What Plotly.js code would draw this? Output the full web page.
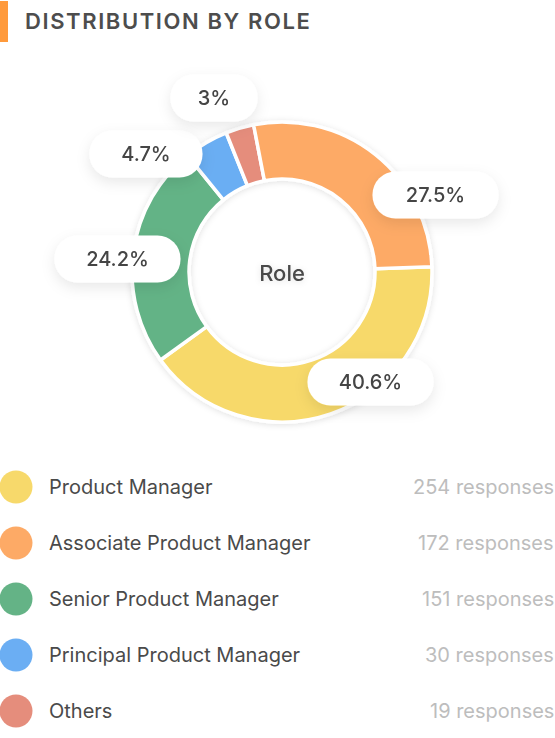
<!DOCTYPE html>
<html>
<head>
<meta charset="utf-8">
<script src="https://cdn.plot.ly/plotly-3.0.1.min.js"></script>
<style>
  html, body { margin: 0; padding: 0; background: #fff; }
  #chart { width: 555px; height: 738px; }
</style>
</head>
<body>
<div id="chart"></div>
<script>
// data, in legend order
const roles = ['Product Manager', 'Associate Product Manager', 'Senior Product Manager', 'Principal Product Manager', 'Others'];
const responses = [254, 172, 151, 30, 19];
const percentLabels = ['40.6%', '27.5%', '24.2%', '4.7%', '3%'];
const colors = ['#F7D96B', '#FDAA66', '#64B386', '#6BAEF3', '#E58D7C'];

// order the slices go round the donut (clockwise from 3 o'clock)
const pieOrder = [0, 2, 3, 4, 1];

// where the percent bubbles sit (px from top-left of the page)
const bubblePos = [[370, 382], [435, 195], [117, 259], [146, 154], [214, 98]];

const W = 555, H = 738;
const px = x => x / W;
const py = y => 1 - y / H;

// donut: centre (282, 272), radius 150
const cx = 282, cy = 272, R = 150;

// legend rows: first row at 487px, 56px apart -> y axis range in row units
const rowTop = 487, rowGap = 56;

let pie = {
    type: 'pie',
    values: pieOrder.map(i => responses[i]),
    labels: pieOrder.map(i => roles[i]),
    sort: false,
    direction: 'clockwise',
    rotation: 88,
    hole: 0.62,
    textinfo: 'none',
    hoverinfo: 'skip',
    marker: { colors: pieOrder.map(i => colors[i]), line: { color: '#ffffff', width: 3.5 } },
    domain: { x: [px(cx - R), px(cx + R)], y: [py(cy + R), py(cy - R)] },
    title: {
        text: 'Role',
        position: 'middle center',
        font: { family: 'Inter, sans-serif', size: 22, color: '#4a4a4a', weight: 500 }
    }
};

let legendDots = {
    type: 'scatter',
    mode: 'markers',
    x: roles.map(() => 16),
    y: roles.map((r, i) => i),
    marker: { size: 33, color: colors },
    hoverinfo: 'skip'
};

let annotations = [];
percentLabels.forEach((t, i) => {
    annotations.push({
        xref: 'paper', yref: 'paper',
        x: px(bubblePos[i][0]), y: py(bubblePos[i][1]),
        xanchor: 'center', yanchor: 'middle',
        text: t, showarrow: false,
        width: 60 + 13 * t.length, height: 46,
        borderpad: 0, bgcolor: '#ffffff',
        font: { family: 'Inter, sans-serif', size: 20, color: '#444444', weight: 500 }
    });
});
roles.forEach((r, i) => {
    annotations.push({
        xref: 'x', yref: 'y', x: 47, y: i,
        xanchor: 'left', yanchor: 'middle',
        text: r, showarrow: false,
        font: { family: 'Inter, sans-serif', size: 20, color: '#4a4a4a' }
    });
    annotations.push({
        xref: 'paper', yref: 'y', x: 1, xshift: 1, y: i,
        xanchor: 'right', yanchor: 'middle',
        text: responses[i] + ' responses', showarrow: false,
        font: { family: 'Inter, sans-serif', size: 20, color: '#bdbdbd' }
    });
});

let layout = {
    width: W, height: H,
    margin: { l: 0, r: 0, t: 0, b: 0 },
    paper_bgcolor: '#ffffff',
    plot_bgcolor: 'rgba(0,0,0,0)',
    showlegend: false,
    title: {
        text: 'DISTRIBUTION BY ROLE',
        xref: 'paper', yref: 'paper',
        x: px(25), xanchor: 'left',
        y: py(21), yanchor: 'middle',
        font: { family: 'Inter, sans-serif', size: 22, color: '#4d4d4d', weight: 600 }
    },
    xaxis: { range: [0, W], visible: false, fixedrange: true },
    yaxis: {
        range: [(H - rowTop) / rowGap, -rowTop / rowGap],
        visible: false, fixedrange: true
    },
    shapes: [{
        type: 'rect', xref: 'paper', yref: 'paper',
        x0: 0, x1: px(8), y0: py(42), y1: py(1),
        fillcolor: '#FF9A3C', line: { width: 0 }
    }],
    annotations: annotations
};

Plotly.newPlot('chart', [pie, legendDots], layout, { staticPlot: true }).then(gd => {
    const NS = 'http://www.w3.org/2000/svg';
    const svg = gd.querySelector('svg.main-svg');
    let defs = svg.querySelector('defs');
    if (!defs) { defs = document.createElementNS(NS, 'defs'); svg.prepend(defs); }

    function shadow(id, dy, blur, op) {
        let f = document.createElementNS(NS, 'filter');
        f.setAttribute('id', id);
        f.setAttribute('x', '-50%'); f.setAttribute('y', '-50%');
        f.setAttribute('width', '200%'); f.setAttribute('height', '200%');
        let d = document.createElementNS(NS, 'feDropShadow');
        d.setAttribute('dx', 0); d.setAttribute('dy', dy);
        d.setAttribute('stdDeviation', blur);
        d.setAttribute('flood-color', '#000');
        d.setAttribute('flood-opacity', op);
        f.appendChild(d);
        defs.appendChild(f);
    }
    shadow('bubbleShadow', 5, 7, 0.09);
    shadow('pieShadow', 1, 3, 0.12);

    gd.querySelectorAll('.annotation').forEach(a => {
        if (+a.getAttribute('data-index') < percentLabels.length) {
            let rect = a.querySelector('rect.bg');
            rect.setAttribute('rx', 23);
            rect.setAttribute('ry', 23);
            a.setAttribute('filter', 'url(#bubbleShadow)');
        }
    });

    let slices = gd.querySelector('.pielayer .trace');
    if (slices) slices.setAttribute('filter', 'url(#pieShadow)');

    let title = gd.querySelector('.gtitle');
    if (title) title.style.letterSpacing = '1.6px';
});
</script>
</body>
</html>
